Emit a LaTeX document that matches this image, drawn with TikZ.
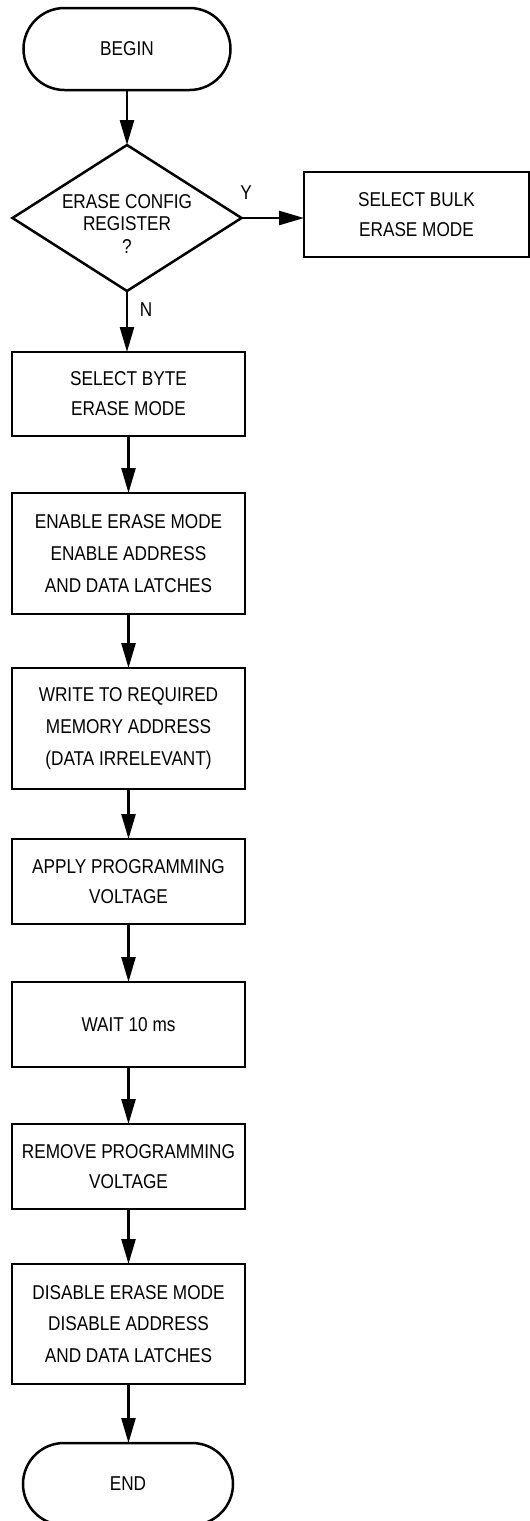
\documentclass[tikz,border=0pt]{standalone}
\usepackage{fontspec}
\setmainfont[FakeStretch=0.86]{Liberation Sans}
\usetikzlibrary{shapes.geometric,arrows.meta}
\begin{document}
\begin{tikzpicture}[x=1pt,y=-1pt,
  base/.style={line width=2.5pt, align=center, inner sep=0pt, outer sep=0pt},
  txt2/.style={font=\fontsize{20}{30}\selectfont},
  txt3/.style={font=\fontsize{20}{31.7}\selectfont},
  stepbox/.style={base, draw, minimum width=233pt},
  term/.style={base, draw, rounded corners=41pt, minimum width=207pt, minimum height=82pt, txt2},
  decision/.style={base, draw, diamond, minimum width=229pt, minimum height=146pt},
  lbl/.style={font=\fontsize{20}{24}\selectfont, inner sep=0pt},
  arr/.style={-{Triangle[length=25pt,width=14pt]}, line width=2.5pt}
]
\useasboundingbox (0,0) rectangle (530,1521);

\node[term] (begin) at (127,49) {BEGIN};
\node[decision] (dec) at (127,218) {};
\node[font=\fontsize{20}{22.5}\selectfont, align=center, inner sep=0pt] (dectext) at (127,224) {ERASE CONFIG\\REGISTER\\?};
\node[stepbox, txt2, minimum width=225pt, minimum height=85pt] (bulk) at (416.5,214.5) {SELECT BULK\\ERASE MODE};
\node[stepbox, txt2, minimum height=84pt] (byte) at (128.5,394) {SELECT BYTE\\ERASE MODE};
\node[stepbox, txt3, minimum height=121pt] (enable) at (128.5,553.5) {ENABLE ERASE MODE\\ENABLE ADDRESS\\AND DATA LATCHES};
\node[stepbox, txt3, minimum height=121pt] (write) at (128.5,728.5) {WRITE TO REQUIRED\\MEMORY ADDRESS\\(DATA IRRELEVANT)};
\node[stepbox, txt2, minimum height=85pt] (apply) at (128.5,881.5) {APPLY PROGRAMMING\\VOLTAGE};
\node[stepbox, txt2, minimum height=85pt] (wait) at (128.5,1024.5) {WAIT 10 ms};
\node[stepbox, txt2, minimum height=85pt] (remove) at (128.5,1166.5) {REMOVE PROGRAMMING\\VOLTAGE};
\node[stepbox, txt3, minimum height=120pt] (disable) at (128.5,1324) {DISABLE ERASE MODE\\DISABLE ADDRESS\\AND DATA LATCHES};
\node[term, minimum width=210pt] (end) at (128,1484) {END};

\node[lbl] (ylab) at (246,193) {Y};
\node[lbl] (nlab) at (146,310) {N};

\draw[arr] (begin.south) -- (dec.north);
\draw[arr] (dec.east) -- (dec.east -| bulk.west);
\draw[arr] (dec.south) -- (dec.south |- byte.north);
\draw[arr] (byte.south) -- (enable.north);
\draw[arr] (enable.south) -- (write.north);
\draw[arr] (write.south) -- (apply.north);
\draw[arr] (apply.south) -- (wait.north);
\draw[arr] (wait.south) -- (remove.north);
\draw[arr] (remove.south) -- (disable.north);
\draw[arr] (disable.south) -- (disable.south |- end.north);
\end{tikzpicture}
\end{document}
